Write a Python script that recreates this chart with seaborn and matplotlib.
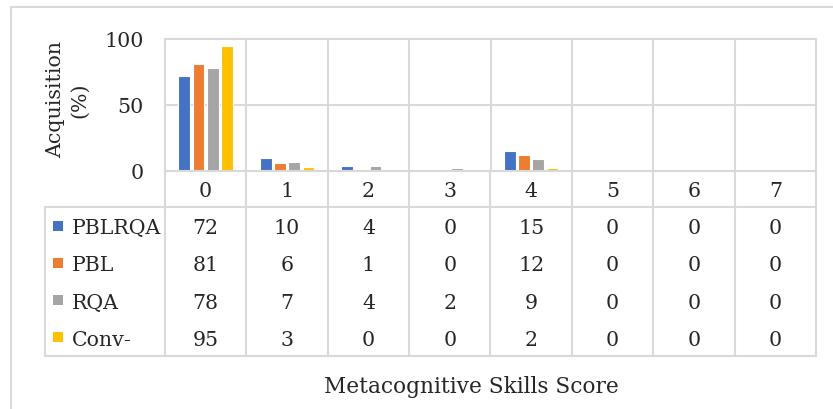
import numpy as np
import pandas as pd
import matplotlib
matplotlib.use("Agg")
import matplotlib.pyplot as plt
from matplotlib.lines import Line2D
from matplotlib.patches import Rectangle
import seaborn as sns

# ---- data ----
scores = ["0", "1", "2", "3", "4", "5", "6", "7"]
groups = ["PBLRQA", "PBL", "RQA", "Conv-"]
pblrqa = [72, 10, 4, 0, 15, 0, 0, 0]
pbl = [81, 6, 1, 0, 12, 0, 0, 0]
rqa = [78, 7, 4, 2, 9, 0, 0, 0]
conv = [95, 3, 0, 0, 2, 0, 0, 0]
series = [pblrqa, pbl, rqa, conv]
colors = ["#4472C4", "#ED7D31", "#A5A5A5", "#FFC000"]

df = pd.DataFrame({
    "score": np.repeat([scores], len(groups), axis=0).ravel(),
    "group": np.repeat(groups, len(scores)),
    "value": np.concatenate(series),
})

sns.set_theme(style="white")
FONT = "DejaVu Serif"
plt.rcParams["font.family"] = [FONT]
FS = 14.8
GRID = "#d9d9d9"

W, H = 833, 410
fig = plt.figure(figsize=(W / 100, H / 100), dpi=100)
fig.patch.set_facecolor("white")

def fx(px):
    return px / W

def fy(py):
    return 1 - py / H

# outer chart border (left and top visible)
fig.add_artist(Line2D([fx(11), 1], [fy(8), fy(8)], color=GRID, lw=1.5))
fig.add_artist(Line2D([fx(11), fx(11)], [0, fy(8)], color=GRID, lw=1.5))

L, R, T, B = 165, 816, 40, 172
ax = fig.add_axes([fx(L), fy(B), fx(R - L), (B - T) / H])
sns.barplot(data=df, x="score", y="value", hue="group", order=scores,
            hue_order=groups, palette=colors, saturation=1, width=0.7, gap=0.18,
            edgecolor="white", linewidth=0.8, ax=ax, legend=False)
ax.set_xlim(-0.5, len(scores) - 0.5)
ax.set_ylim(0, 100)
ax.set_yticks([0, 50, 100])
ax.set_yticklabels(["0", "50", "100"], fontsize=FS)
ax.set_xticks([])
ax.set_xlabel("")
ax.set_ylabel("")
ax.tick_params(axis="y", left=False, length=0, pad=15.5)
ax.set_facecolor("none")
for sp in ax.spines.values():
    sp.set_visible(True)
    sp.set_color(GRID)
    sp.set_linewidth(1.5)
ax.axhline(50, color=GRID, lw=1.5, zorder=0)
for i in range(len(scores) - 1):
    ax.axvline(i + 0.5, color=GRID, lw=1.5, zorder=0)

fig.text(fx(68), fy(100), "Acquisition\n(%)", rotation=90, ha="center",
         va="center", multialignment="center", fontsize=FS, linespacing=1.35)

# ---- data table ----
TL, TB = 45, 357
colw = (R - L) / len(scores)
Lc = (L - TL) / colw
tax = fig.add_axes([fx(TL), fy(TB), fx(R - TL), (TB - B) / H])
tax.set_xlim(-0.5 - Lc, len(scores) - 0.5)
tax.set_ylim(TB - B, 0)
tax.axis("off")
hdr = 36
rowh = (TB - B - hdr) / len(groups)
n = len(scores)
for i in range(n + 1):
    tax.plot([i - 0.5, i - 0.5], [0, TB - B], color=GRID, lw=1.5, clip_on=False)
for yy in (hdr, TB - B):
    tax.plot([-0.5 - Lc, n - 0.5], [yy, yy], color=GRID, lw=1.5, clip_on=False)
tax.plot([-0.5 - Lc, -0.5 - Lc], [hdr, TB - B], color=GRID, lw=1.5, clip_on=False)
for i, s in enumerate(scores):
    tax.text(i, hdr / 2, s, ha="center", va="center_baseline", fontsize=FS)
for r, (g, vals, c) in enumerate(zip(groups, series, colors)):
    yc = hdr + rowh * (r + 0.5)
    sq = 10 / colw
    tax.add_patch(Rectangle((-0.5 - Lc + 8 / colw, yc - 5), sq, 10,
                            facecolor=c, edgecolor="none", clip_on=False))
    tax.text(-0.5 - Lc + 27 / colw, yc, g, ha="left", va="center_baseline",
             fontsize=FS)
    for i, v in enumerate(vals):
        tax.text(i, yc, str(v), ha="center", va="center_baseline", fontsize=FS)

fig.text(fx(471), fy(393), "Metacognitive Skills Score", ha="center",
         va="baseline", fontsize=FS + 0.8)

fig.savefig("out.png", dpi=100)
